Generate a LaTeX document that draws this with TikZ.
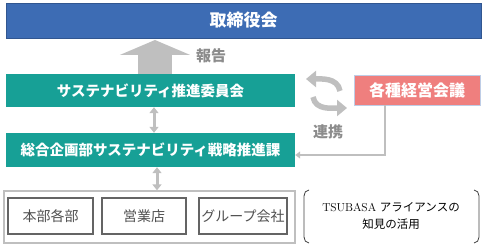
\documentclass[tikz,border=0pt]{standalone}
\usepackage{fontspec}
\usepackage{tikz}
\usetikzlibrary{arrows.meta}
\newfontfamily\jp{Noto Sans CJK JP}
\definecolor{boardblue}{RGB}{61,108,180}
\definecolor{susteal}{RGB}{23,160,150}
\definecolor{meetred}{RGB}{239,127,126}
\definecolor{meetedge}{RGB}{190,205,230}
\definecolor{arrowgray}{RGB}{191,191,191}
\definecolor{labelgray}{RGB}{140,140,140}
\definecolor{unitgray}{RGB}{100,100,100}
\tikzset{
  % filled boxes with white bold text
  headbox/.style={rectangle,inner sep=0pt,text=white,font=\fontsize{14.5}{16}\selectfont\jp\bfseries},
  boardbox/.style={headbox,fill=boardblue,draw=boardblue!80!black,line width=0.6pt,font=\fontsize{17}{19}\selectfont\jp\bfseries},
  susbox/.style={headbox,fill=susteal},
  meetbox/.style={headbox,fill=meetred,draw=meetedge,line width=0.8pt,font=\fontsize{16}{18}\selectfont\jp\bfseries},
  % outlined boxes at the bottom
  unitbox/.style={rectangle,draw=unitgray,line width=1.1pt,inner sep=0pt,text=unitgray!80!black,font=\fontsize{14}{16}\selectfont\jp},
  groupbox/.style={rectangle,draw=arrowgray,line width=1.3pt,inner sep=0pt},
  % gray labels
  glabel/.style={text=labelgray,font=\fontsize{15}{17}\selectfont\jp\bfseries},
  % arrows
  bigarrow/.style={draw=arrowgray,line width=34pt,-{Triangle[length=15pt,width=70pt]}},
  dblarrow/.style={draw=arrowgray,line width=3pt,{Triangle[length=6pt,width=9pt]}-{Triangle[length=6pt,width=9pt]}},
  cyc/.style={draw=arrowgray,line width=5.5pt,-{Triangle[length=10pt,width=16pt]}},
  link/.style={draw=arrowgray,line width=2.5pt,-{Triangle[length=5pt,width=7pt]}},
  paren/.style={draw=black!75,line width=0.8pt}
}
\begin{document}
\begin{tikzpicture}[x=1pt,y=1pt]
  \useasboundingbox (0,0) rectangle (484,246);
  % boxes
  \node[boardbox,minimum width=475pt,minimum height=35pt] (board) at (243.5,225.5) {取締役会};
  \node[susbox,minimum width=289pt,minimum height=33pt] (sus) at (150.5,155.5) {サステナビリティ推進委員会};
  \node[susbox,minimum width=289pt,minimum height=34pt] (strat) at (150.5,96) {総合企画部サステナビリティ戦略推進課};
  \node[meetbox,minimum width=126pt,minimum height=30pt] (meet) at (417,156) {各種経営会議};
  %%%%%%%%%%%%%%%%%%%%%%%%%%%%%%%%%%%%%%%
  \node[groupbox,minimum width=291pt,minimum height=52pt] (units) at (149.5,29) {};
  \node[unitbox,minimum width=85pt,minimum height=36pt] (hq) at (50.5,30) {本部各部};
  \node[unitbox,minimum width=84pt,minimum height=36pt] (branch) at (144,30) {営業店};
  \node[unitbox,minimum width=88pt,minimum height=36pt] (group) at (243,30) {グループ会社};
  %%%%%%%%%%%%%%%%%%%%%%%%%%%%%%%%%%%%%%%
  \node[align=center,font=\fontsize{11.5}{17}\selectfont] (alliance) at (391,30)
    {TSUBASA {\jp アライアンスの}\\{\jp 知見の活用}};
  \draw[paren] (309,56) to[out=180,in=90] (304,50) -- (304,9) to[out=-90,in=180] (309,3);
  \draw[paren] (474,56) to[out=0,in=90] (479,50) -- (479,9) to[out=-90,in=0] (474,3);
  %%%%%%%%%%%%%%%%%%%%%%%%%%%%%%%%%%%%%%%
  % arrows
  \coordinate (rep) at (155,206);
  \draw[bigarrow] (sus.north -| rep) -- (rep);
  \node[glabel] (replabel) at (211,190) {報告};
  \coordinate (up) at (154,0);
  \coordinate (down) at (157,0);
  \draw[dblarrow] (sus.south -| up) -- (strat.north -| up);
  \draw[dblarrow] (strat.south -| down) -- (units.north -| down);
  \coordinate (cycA) at (340,155);
  \coordinate (cycB) at (306,167);
  \coordinate (cycC) at (313,149);
  \coordinate (cycD) at (347,138);
  \draw[cyc] (cycA) to[out=100,in=0] (cycB);
  \draw[cyc] (cycC) to[out=-80,in=180] (cycD);
  \node[glabel] (linklabel) at (328,114) {連携};
  \coordinate (drop) at (385,0);
  \draw[link] (meet.south -| drop) |- ([yshift=-5pt]strat.east);
\end{tikzpicture}
\end{document}
